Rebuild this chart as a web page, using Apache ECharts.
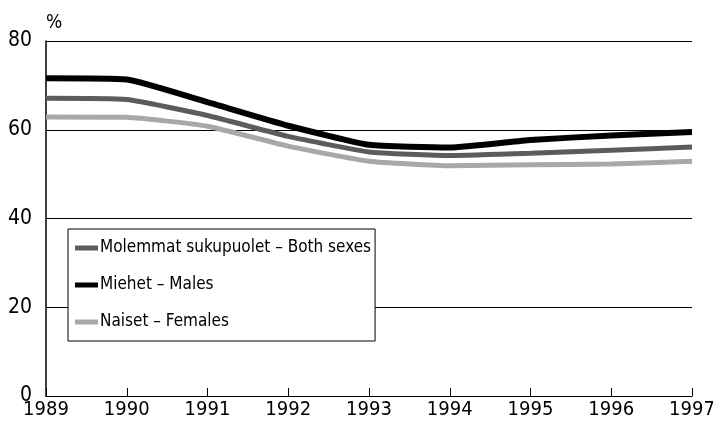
<!DOCTYPE html>
<html>
<head>
<meta charset="utf-8">
<script src="https://cdn.jsdelivr.net/npm/echarts@6/dist/echarts.min.js"></script>
<style>
  html, body { margin: 0; padding: 0; background: #fff; }
  #chart { width: 713px; height: 432px; }
</style>
</head>
<body>
<div id="chart"></div>
<script>
var years = ['1989', '1990', '1991', '1992', '1993', '1994', '1995', '1996', '1997'];
var both = [67.1, 66.8, 63.2, 58.5, 55.0, 54.2, 54.7, 55.4, 56.1];
var males = [71.6, 71.3, 66.2, 60.9, 56.6, 56.0, 57.7, 58.7, 59.5];
var females = [62.9, 62.8, 60.8, 56.3, 52.9, 51.9, 52.1, 52.3, 52.9];
var names = ['Molemmat sukupuolet \u2013 Both sexes', 'Miehet \u2013 Males', 'Naiset \u2013 Females'];

var font = "'Liberation Sans Narrow', 'DejaVu Sans Condensed', 'Liberation Sans', sans-serif";

var myChart = echarts.init(document.getElementById('chart'));

var option = {
    animation: false,
    textStyle: { fontFamily: font, color: '#000' },
    grid: { left: 46, right: 21, top: 41, bottom: 36, containLabel: false, outerBoundsMode: 'none' },
    legend: {
        orient: 'vertical',
        left: 68,
        top: 229,
        padding: [8, 4, 8, 7],
        itemGap: 15,
        itemWidth: 23,
        itemHeight: 5,
        icon: 'rect',
        borderColor: '#000',
        borderWidth: 1,
        backgroundColor: '#fff',
        textStyle: { fontFamily: font, fontSize: 17, color: '#000', lineHeight: 22, padding: [0, 0, 0, -3] },
        data: names
    },
    xAxis: {
        type: 'category',
        boundaryGap: false,
        data: years,
        axisLine: { lineStyle: { color: '#000', width: 1.2 } },
        axisTick: { inside: true, length: 8, lineStyle: { color: '#000' } },
        axisLabel: { fontFamily: font, fontSize: 20, color: '#000', margin: 4 },
        splitLine: { show: false }
    },
    yAxis: {
        type: 'value',
        min: 0,
        max: 80,
        interval: 20,
        name: '%',
        nameGap: 8,
        nameTextStyle: { fontFamily: font, fontSize: 19, color: '#000', align: 'left' },
        axisLine: { show: true, lineStyle: { color: '#000', width: 1.5 } },
        axisTick: { show: false },
        axisLabel: { fontFamily: font, fontSize: 21, color: '#000', margin: 14 },
        splitLine: { lineStyle: { color: '#000', width: 1 } }
    },
    series: [
        {
            name: names[2],
            type: 'line',
            data: females,
            smooth: 0.15,
            showSymbol: false,
            itemStyle: { color: '#a8a8a8' },
            lineStyle: { color: '#a8a8a8', width: 5 }
        },
        {
            name: names[0],
            type: 'line',
            data: both,
            smooth: 0.15,
            showSymbol: false,
            itemStyle: { color: '#5c5c5c' },
            lineStyle: { color: '#5c5c5c', width: 5 }
        },
        {
            name: names[1],
            type: 'line',
            data: males,
            smooth: 0.15,
            showSymbol: false,
            itemStyle: { color: '#000' },
            lineStyle: { color: '#000', width: 6 }
        }
    ]
};

myChart.setOption(option);
</script>
</body>
</html>
